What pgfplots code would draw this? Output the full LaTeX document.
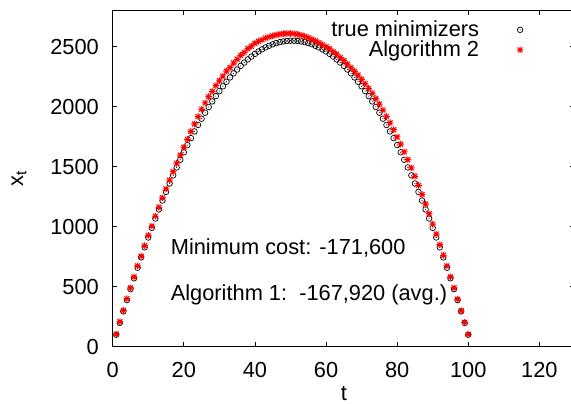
\documentclass[border=0pt]{standalone}
\usepackage{fontspec}
\setmainfont{Liberation Sans}
\usepackage{pgfplots}
\usepackage{pgfplotstable}
\pgfplotsset{compat=1.18}
\usetikzlibrary{calc}

\pgfdeclareplotmark{gpcirc}{%
  \pgfpathcircle{\pgfpointorigin}{\pgfplotmarksize}\pgfusepathqstroke
  \pgfpathcircle{\pgfpointorigin}{0.55pt}\pgfusepathqfill}
\pgfdeclareplotmark{gpstar}{%
  \pgfpathmoveto{\pgfqpoint{-\pgfplotmarksize}{0pt}}\pgfpathlineto{\pgfqpoint{\pgfplotmarksize}{0pt}}%
  \pgfpathmoveto{\pgfqpoint{0pt}{-\pgfplotmarksize}}\pgfpathlineto{\pgfqpoint{0pt}{\pgfplotmarksize}}%
  \pgfpathmoveto{\pgfqpoint{-.75\pgfplotmarksize}{-.75\pgfplotmarksize}}\pgfpathlineto{\pgfqpoint{.75\pgfplotmarksize}{.75\pgfplotmarksize}}%
  \pgfpathmoveto{\pgfqpoint{-.75\pgfplotmarksize}{.75\pgfplotmarksize}}\pgfpathlineto{\pgfqpoint{.75\pgfplotmarksize}{-.75\pgfplotmarksize}}%
  \pgfusepathqstroke}

\pgfplotstableread{
t true alg
1 100 105
2 198 208
3 294 302
4 388 400
5 480 490
6 570 582
7 658 673
8 744 754
9 828 842
10 910 928
11 990 1005
12 1068 1088
13 1144 1162
14 1218 1240
15 1290 1315
16 1360 1388
17 1428 1458
18 1494 1529
19 1558 1596
20 1620 1662
21 1680 1728
22 1738 1793
23 1794 1856
24 1848 1918
25 1900 1978
26 1950 2032
27 1998 2083
28 2044 2128
29 2088 2176
30 2130 2216
31 2170 2254
32 2208 2296
33 2244 2326
34 2278 2364
35 2310 2395
36 2340 2428
37 2368 2452
38 2394 2484
39 2418 2504
40 2440 2528
41 2460 2545
42 2478 2558
43 2494 2572
44 2508 2582
45 2520 2590
46 2530 2598
47 2538 2604
48 2544 2608
49 2548 2610
50 2550 2610
51 2550 2608
52 2548 2603
53 2544 2596
54 2538 2586
55 2530 2575
56 2520 2562
57 2508 2548
58 2494 2534
59 2478 2516
60 2460 2500
61 2440 2482
62 2418 2458
63 2394 2438
64 2368 2410
65 2340 2385
66 2310 2355
67 2278 2326
68 2244 2294
69 2208 2263
70 2170 2228
71 2130 2192
72 2088 2153
73 2044 2112
74 1998 2068
75 1950 2022
76 1900 1972
77 1848 1918
78 1794 1866
79 1738 1808
80 1680 1748
81 1620 1688
82 1558 1624
83 1494 1559
84 1428 1490
85 1360 1420
86 1290 1345
87 1218 1268
88 1144 1189
89 1068 1108
90 990 1022
91 910 938
92 828 850
93 744 762
94 658 673
95 570 582
96 480 490
97 388 396
98 294 300
99 198 203
100 100 103
}\datatab

\begin{document}
\fontsize{21.8pt}{26pt}\selectfont
\begin{tikzpicture}
\begin{axis}[
  scale only axis,
  width=462.2pt, height=336pt,
  xmin=0, xmax=130, ymin=0, ymax=2800,
  xtick={0,20,...,120},
  ytick={0,500,...,2500},
  /pgf/number format/assume math mode=true,
  /pgf/number format/set thousands separator={},
  tick align=inside,
  major tick length=4.5pt,
  axis line style={line width=1pt},
  every tick/.style={black, line width=0.8pt},
  xticklabel style={yshift=-7.7pt},
  yticklabel style={xshift=-6.4pt},
  xlabel={t},
  ylabel={x\textsubscript{t}},
  xlabel style={at={(axis description cs:0.5,0)}, anchor=center, yshift=-46.5pt},
  ylabel style={at={(axis description cs:0,0.5)}, anchor=center, yshift=93.7pt},
  legend plot pos=right,
  legend cell align=right,
  legend style={draw=none, fill=none, at={(axis cs:116.9,2755)}, anchor=north east,
    row sep=-3pt, font=\fontsize{21.8pt}{26pt}\selectfont},
  legend image code/.code={\path[draw=none,fill=none] (0pt,-3pt) rectangle (44pt,3pt); \draw[#1] plot coordinates {(39pt,0pt)};},
]
\addplot[only marks, mark=gpcirc, mark size=2.8pt, black, line width=0.7pt] table[x=t, y=true] {\datatab};
\addlegendentry{true minimizers}
\addplot[only marks, mark=gpstar, mark size=3.3pt, red, line width=1pt] table[x=t, y=alg] {\datatab};
\addlegendentry{Algorithm 2}
\node[anchor=base west, inner sep=0pt] at (axis cs:16.3,770) {Minimum cost: -171,600};
\node[anchor=base west, inner sep=0pt] at (axis cs:16.3,381) {Algorithm 1:\ \ -167,920 (avg.)};
\end{axis}
\pgfresetboundingbox
\path ($(current axis.south west)+(-112.7pt,-57.3pt)$) rectangle ($(current axis.south west)+(458.3pt,346.7pt)$);
\end{tikzpicture}
\end{document}
